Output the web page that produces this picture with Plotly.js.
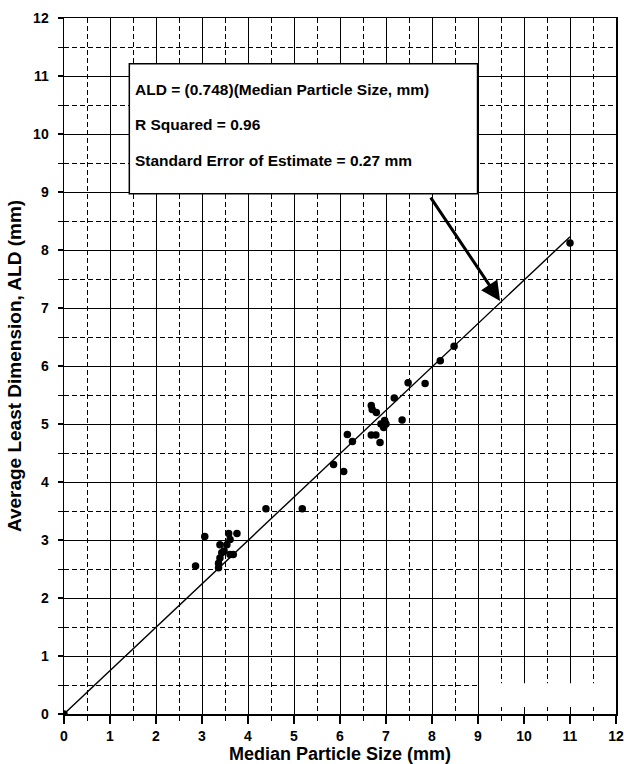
<!DOCTYPE html>
<html>
<head>
<meta charset="utf-8">
<script src="https://cdn.plot.ly/plotly-3.0.1.min.js"></script>
<style>html,body{margin:0;padding:0;background:#fff;}#chart{width:624px;height:764px;}</style>
</head>
<body>
<div id="chart"></div>
<script>
// Observed data: median particle size (mm) vs average least dimension (mm)
const medianSize = [0, 2.86, 3.06, 3.36, 3.36, 3.39, 3.39, 3.43, 3.48, 3.54, 3.58, 3.61, 3.61, 3.68, 3.76,
  4.39, 5.18, 5.86, 6.08, 6.16, 6.27, 6.68, 6.68, 6.70, 6.78, 6.79, 6.87, 6.89, 6.95, 6.97, 7.00,
  7.18, 7.35, 7.48, 7.85, 8.18, 8.48, 11.0];
const leastDim = [0, 2.55, 3.06, 2.52, 2.60, 2.69, 2.92, 2.78, 2.81, 2.92, 3.11, 3.01, 2.75, 2.75, 3.11,
  3.54, 3.54, 4.30, 4.18, 4.82, 4.70, 4.81, 5.32, 5.25, 4.81, 5.20, 4.68, 5.00, 4.94, 5.06, 5.00,
  5.45, 5.07, 5.71, 5.70, 6.09, 6.34, 8.12];
// Regression: ALD = 0.748 * median size
const slope = 0.748;
const fitX = [0, 11];
const fitY = fitX.map(v => slope * v);
const axisMin = 0, axisMax = 12, majorStep = 1, minorStep = 0.5;
const boxLines = [
  'ALD = (0.748)(Median Particle Size, mm)',
  'R Squared = 0.96',
  'Standard Error of Estimate = 0.27 mm'
];

const FONT = 'Arial, "Liberation Sans", Helvetica, sans-serif';

const traces = [
  {x: fitX, y: fitY, type: 'scatter', mode: 'lines', line: {color: '#000', width: 1.4}, hoverinfo: 'skip'},
  {x: medianSize, y: leastDim, type: 'scatter', mode: 'markers',
   marker: {color: '#000', size: 7.5, symbol: 'circle'}}
];

const axisCommon = {
  range: [axisMin, axisMax], autorange: false,
  tickmode: 'linear', tick0: axisMin, dtick: majorStep,
  ticklabeloverflow: 'allow',
  showline: true, linecolor: '#000', linewidth: 1.5, mirror: true,
  showgrid: true, gridcolor: '#000', gridwidth: 1,
  zeroline: false, ticks: 'outside', tickcolor: '#000', tickwidth: 1.2,
  tickfont: {family: FONT, size: 14, color: '#000', weight: 'bold'},
  minor: {tickmode: 'linear', tick0: axisMin, dtick: minorStep, showgrid: true, gridcolor: '#000', gridwidth: 1,
          griddash: '5px,3px', ticks: 'outside', ticklen: 5, tickcolor: '#000', tickwidth: 1}
};

const annotations = boxLines.map((t, i) => ({
  x: 1.5, y: [10.77, 10.17, 9.54][i], xref: 'x', yref: 'y', xanchor: 'left', yanchor: 'middle',
  text: t, showarrow: false, font: {family: FONT, size: 15.5, color: '#000', weight: 'bold'}
}));
annotations.push({
  x: 9.48, y: 7.12, ax: 7.95, ay: 8.93, xref: 'x', yref: 'y', axref: 'x', ayref: 'y',
  text: '', showarrow: true, arrowhead: 2, arrowsize: 1.3, arrowwidth: 3, arrowcolor: '#000'
});

const layout = {
  width: 624, height: 764,
  margin: {l: 64, r: 8, t: 18, b: 50},
  paper_bgcolor: '#fff', plot_bgcolor: '#fff',
  showlegend: false,
  xaxis: Object.assign({}, axisCommon, {
    ticklen: 8, ticklabelstandoff: 1,
    title: {text: 'Median Particle Size (mm)', standoff: 3,
            font: {family: FONT, size: 18, color: '#000', weight: 'bold'}}
  }),
  yaxis: Object.assign({}, axisCommon, {
    ticklen: 5, ticklabelstandoff: 6,
    title: {text: 'Average Least Dimension, ALD (mm)', standoff: 6,
            font: {family: FONT, size: 19, color: '#000', weight: 'bold'}}
  }),
  shapes: [
    {type: 'rect', xref: 'x', yref: 'y', x0: 1.42, x1: 8.99, y0: 8.97, y1: 11.21,
     fillcolor: '#fff', line: {color: '#000', width: 1.5}, layer: 'above'},
    {type: 'rect', xref: 'x', yref: 'y', x0: 9.04, x1: 11.97, y0: 0.12, y1: 0.53,
     fillcolor: '#fff', line: {width: 0}, layer: 'between'}
  ],
  annotations: annotations
};

Plotly.newPlot('chart', traces, layout, {displayModeBar: false, staticPlot: true});
</script>
</body>
</html>
